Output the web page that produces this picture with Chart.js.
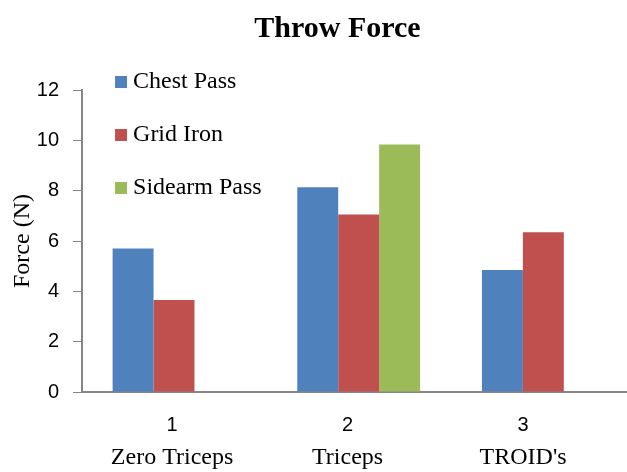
<!DOCTYPE html>
<html>
<head>
<meta charset="utf-8">
<script src="https://cdn.jsdelivr.net/npm/chart.js@4"></script>
<style>
  body { margin: 0; background: #fff; }
</style>
</head>
<body>
<canvas id="forceChart" width="627" height="472"></canvas>
<script>
const categories = ['1', '2', '3'];
const groupNames = ['Zero Triceps', 'Triceps', "TROID's"];
const chestPass = [5.7, 8.14, 4.85];
const gridIron = [3.66, 7.05, 6.35];
const sidearmPass = [null, 9.83, null];

// chart title, sitting a bit right of the canvas centre like the source
const topTitle = {
    id: 'topTitle',
    afterDraw(chart) {
        const ctx = chart.ctx;
        ctx.save();
        ctx.font = 'bold 30px "Liberation Serif", serif';
        ctx.fillStyle = '#000';
        ctx.textAlign = 'center';
        ctx.textBaseline = 'middle';
        ctx.fillText('Throw Force', chart.width / 2 + 24, 29);
        ctx.restore();
    }
};

// legend drawn inside the plot, top-left, one item per row
const insideLegend = {
    id: 'insideLegend',
    afterDraw(chart) {
        const ctx = chart.ctx;
        const area = chart.chartArea;
        ctx.save();
        ctx.font = '24px "Liberation Serif", serif';
        ctx.textBaseline = 'middle';
        chart.data.datasets.forEach(function (ds, i) {
            const y = area.top - 8 + i * 53;
            ctx.fillStyle = ds.backgroundColor;
            ctx.fillRect(area.left + 33, y - 6, 12, 12);
            ctx.fillStyle = '#000';
            ctx.fillText(ds.label, area.left + 51, y);
        });
        ctx.restore();
    }
};

// second label row (serif group names) under the numeric x ticks
const groupLabels = {
    id: 'groupLabels',
    afterDraw(chart) {
        const ctx = chart.ctx;
        const axis = chart.scales.x2;
        ctx.save();
        ctx.font = '24px "Liberation Serif", serif';
        ctx.fillStyle = '#000';
        ctx.textAlign = 'center';
        ctx.textBaseline = 'middle';
        groupNames.forEach(function (name, i) {
            ctx.fillText(name, axis.getPixelForValue(i + 1), axis.bottom);
        });
        ctx.restore();
    }
};

new Chart(document.getElementById('forceChart'), {
    type: 'bar',
    data: {
        labels: categories,
        datasets: [
            { label: 'Chest Pass', data: chestPass, backgroundColor: '#4F81BD' },
            { label: 'Grid Iron', data: gridIron, backgroundColor: '#C0504D' },
            { label: 'Sidearm Pass', data: sidearmPass, backgroundColor: '#9BBB59' }
        ]
    },
    options: {
        responsive: false,
        animation: false,
        layout: { padding: { left: 8, right: 0, top: 90, bottom: 14 } },
        datasets: {
            bar: { categoryPercentage: 0.665, barPercentage: 1.0 }
        },
        plugins: {
            legend: { display: false },
            tooltip: { enabled: false },
            title: { display: false }
        },
        scales: {
            // bar positions (groups sit a little right of their labels in the source)
            x: {
                type: 'linear',
                display: false,
                offset: false,
                min: 0.502,
                max: 3.453,
                grid: { offset: false },
                ticks: { stepSize: 1, includeBounds: false }
            },
            // visible axis with the 1 / 2 / 3 labels
            x2: {
                type: 'linear',
                position: 'bottom',
                offset: false,
                min: 0.487,
                max: 3.592,
                grid: { display: false, drawTicks: false, offset: false },
                border: { display: true, color: '#868686', width: 2 },
                ticks: {
                    stepSize: 1,
                    includeBounds: false,
                    color: '#000',
                    padding: 21,
                    font: { family: '"Liberation Sans", sans-serif', size: 20 }
                }
            },
            y: {
                min: 0,
                max: 12,
                ticks: {
                    stepSize: 2,
                    color: '#000',
                    padding: 14,
                    font: { family: '"Liberation Sans", sans-serif', size: 20 }
                },
                grid: {
                    drawOnChartArea: false,
                    drawTicks: true,
                    tickLength: 9,
                    color: '#868686'
                },
                border: { display: true, color: '#868686', width: 2 },
                title: {
                    display: true,
                    text: 'Force (N)',
                    color: '#000',
                    padding: { top: 0, bottom: -14 },
                    font: { family: '"Liberation Serif", serif', size: 24 }
                }
            }
        }
    },
    plugins: [topTitle, insideLegend, groupLabels]
});
</script>
</body>
</html>
